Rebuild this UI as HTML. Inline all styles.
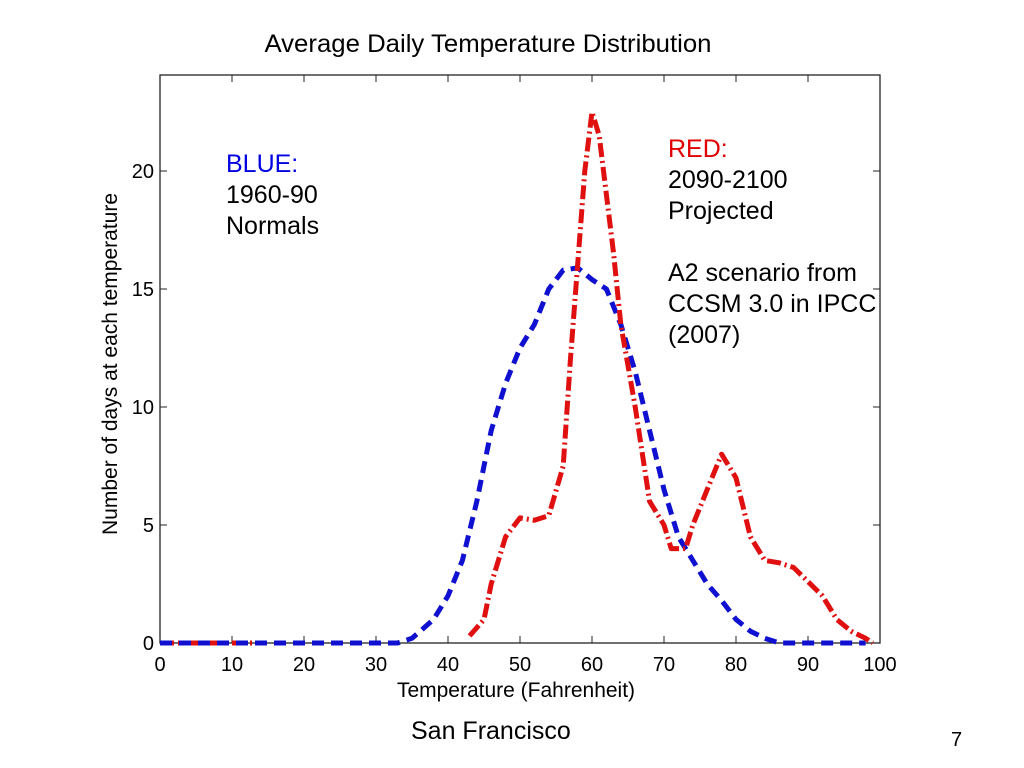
<!DOCTYPE html>
<html><head><meta charset="utf-8"><style>
body{margin:0;width:1024px;height:768px;background:#fff;overflow:hidden;font-family:"Liberation Sans",sans-serif;}
.t{position:absolute;white-space:nowrap;}
</style></head><body>
<div class="t" style="left:0;width:976px;text-align:center;top:30px;font-size:25px;transform:scaleX(1.03)">Average Daily Temperature Distribution</div>
<svg width="1024" height="768" style="position:absolute;left:0;top:0" id="chart">
<g id="axes"></g><g id="lines"></g>
</svg>
<div class="t" style="left:226px;top:149px;font-size:25px;line-height:31px;color:#0000e0">BLUE:</div>
<div class="t" style="left:226px;top:180px;font-size:25px;line-height:31px;">1960-90<br>Normals</div>
<div class="t" style="left:668px;top:134px;font-size:25px;line-height:31px;color:#e00000">RED:</div>
<div class="t" style="left:668px;top:165px;font-size:25px;line-height:31px;">2090-2100<br>Projected<br><br>A2 scenario from<br>CCSM 3.0 in IPCC<br>(2007)</div>
<div class="t" style="left:411px;top:717px;font-size:25px;">San Francisco</div>
<div class="t" style="left:951px;top:729px;font-size:20px;">7</div>
<script>
const xTicks=[0,10,20,30,40,50,60,70,80,90,100];
const yTicks=[0,5,10,15,20];
const blueX=[0,10,20,30,33,35,38,40,42,44,46,48,50,52,54,56,58,60,62,64,66,68,70,72,74,76,78,80,82,84,86,90,95,98];
const blueY=[0,0,0,0,0,0.2,1,2,3.5,6,9,11,12.5,13.5,15,15.8,15.9,15.4,15,13.5,11.5,9,6.5,4.5,3.5,2.5,1.8,1,0.5,0.2,0,0,0,0];
const redLowX=[0,5,10,13];
const redLowY=[0,0,0,0];
const redX=[43,45,46,48,50,52,54,56,57,58,59,60,61,62,63,64,66,68,70,71,73,74,76,78,80,82,84,86,88,90,92,94,96,98,99];
const redY=[0.3,1,2.5,4.5,5.3,5.2,5.4,7.5,12,16,20,22.5,21.5,19,16.5,13.5,10,6,5,4,4,5,6.5,8,7,4.5,3.5,3.4,3.2,2.6,2,1,0.5,0.2,0];
const X0=160,X1=880,Y0=643,YT=75;
const xs=v=>X0+(X1-X0)*v/100, ys=v=>Y0-(Y0-171)*v/20;
const NS='http://www.w3.org/2000/svg';
const ax=document.getElementById('axes'), ln=document.getElementById('lines');
function mk(tag,at,p){const e=document.createElementNS(NS,tag);for(const k in at)e.setAttribute(k,at[k]);p.appendChild(e);return e;}
const fr=mk('rect',{x:X0,y:YT,width:X1-X0,height:Y0-YT,fill:'none',stroke:'#222','stroke-width':1.3},ax);


xTicks.forEach(v=>{
 const l=mk('path',{d:`M${xs(v)},${Y0}v-7M${xs(v)},${YT}v7`,stroke:'#222'},ax);
 
 
 const t=mk('text',{x:xs(v),y:Y0+28,'text-anchor':'middle','font-size':20,'font-family':'Liberation Sans, sans-serif'},ax);
 t.textContent=v;
 
 
});
yTicks.forEach(v=>{
 const l=mk('path',{d:`M${X0},${ys(v)}h7M${X1},${ys(v)}h-7`,stroke:'#222'},ax);
 
 
 const t=mk('text',{x:X0-6,y:ys(v)+7,'text-anchor':'end','font-size':20,'font-family':'Liberation Sans, sans-serif'},ax);
 t.textContent=v;
 
 
});
const xl=mk('text',{x:516,y:697,'text-anchor':'middle','font-size':21,'font-family':'Liberation Sans, sans-serif'},ax);
xl.textContent='Temperature (Fahrenheit)';


const yl=mk('text',{x:0,y:0,'text-anchor':'middle','font-size':21,'font-family':'Liberation Sans, sans-serif',transform:'translate(117,364) rotate(-90)'},ax);
yl.textContent='Number of days at each temperature';


function path(X,Y){return X.map((x,i)=>(i?'L':'M')+xs(x).toFixed(1)+','+ys(Y[i]).toFixed(1)).join('');}
const rl=mk('path',{d:path(redLowX,redLowY),fill:'none',stroke:'#e01010','stroke-width':5,'stroke-dasharray':'14 4 2 4'},ln);


const b=mk('path',{d:path(blueX,blueY),fill:'none',stroke:'#1010d0','stroke-width':5,'stroke-dasharray':'12 7','stroke-linejoin':'round'},ln);


const r=mk('path',{d:path(redX,redY),fill:'none',stroke:'#e01010','stroke-width':5,'stroke-dasharray':'14 4 2 4','stroke-linejoin':'round'},ln);


</script>
</body></html>
